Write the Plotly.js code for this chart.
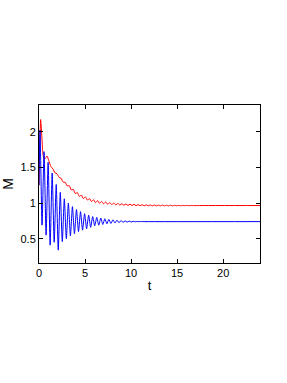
<!DOCTYPE html>
<html>
<head>
<meta charset="utf-8">
<script src="https://cdn.plot.ly/plotly-3.0.1.min.js"></script>
<style>html,body{margin:0;padding:0;background:#fff;}#plot{width:287px;height:383px;}</style>
</head>
<body>
<div id="plot"></div>
<script>
// Blue series (lower, strongly oscillating)
var blueT = [0, 0.11, 0.33, 0.55, 0.77, 0.99, 1.21, 1.43, 1.65, 1.87, 2.09, 2.31, 2.53, 2.75, 2.97, 3.19, 3.41, 3.63, 3.85, 4.07, 4.29, 4.51, 4.73, 4.95, 5.17, 5.39, 5.61, 5.83, 6.05, 6.27, 6.49, 6.71, 6.93, 7.15, 7.37, 7.59, 7.81, 8.03, 8.25, 8.47, 8.69, 8.91, 9.13, 9.35, 9.57, 9.79, 10.01, 10.23, 10.45, 10.67, 10.89, 11.11, 11.5, 24];
var blueM = [1.25, 2.02, 0.69, 1.72, 0.55, 1.57, 0.41, 1.42, 0.45, 1.26, 0.34, 1.15, 0.46, 1.06, 0.50, 1.00, 0.54, 0.95, 0.57, 0.91, 0.60, 0.88, 0.62, 0.85, 0.64, 0.83, 0.66, 0.81, 0.68, 0.80, 0.69, 0.79, 0.70, 0.78, 0.71, 0.77, 0.715, 0.765, 0.72, 0.76, 0.725, 0.755, 0.73, 0.75, 0.733, 0.747, 0.735, 0.744, 0.737, 0.742, 0.739, 0.741, 0.74, 0.74];

// Red series (upper, weakly oscillating)
var redT = [0, 0.18, 0.3, 0.42, 0.55, 0.7, 0.87, 1.05, 1.3, 1.52, 1.74, 1.96, 2.18, 2.40, 2.62, 2.84, 3.06, 3.28, 3.50, 3.72, 3.94, 4.16, 4.38, 4.60, 4.82, 5.04, 5.26, 5.48, 5.70, 5.92, 6.14, 6.36, 6.58, 6.80, 7.02, 7.24, 7.46, 7.68, 7.90, 8.12, 8.34, 8.56, 8.78, 9.00, 9.22, 9.44, 9.66, 9.88, 10.10, 10.32, 10.54, 10.76, 10.98, 11.20, 11.42, 11.64, 11.86, 12.08, 12.30, 12.52, 12.74, 12.96, 13.18, 13.40, 13.62, 13.84, 14.06, 14.28, 14.50, 14.72, 14.94, 15.16, 15.38, 15.60, 15.82, 16.04, 16.26, 16.48, 16.70, 17.2, 24];
var redM = [1.25, 2.17, 1.95, 1.70, 1.61, 1.63, 1.66, 1.60, 1.51, 1.478, 1.422, 1.41, 1.36, 1.347, 1.293, 1.292, 1.24, 1.245, 1.183, 1.192, 1.133, 1.147, 1.093, 1.112, 1.063, 1.087, 1.041, 1.064, 1.021, 1.047, 1.006, 1.035, 0.996, 1.023, 0.989, 1.015, 0.982, 1.006, 0.979, 1.0, 0.974, 0.994, 0.972, 0.99, 0.969, 0.987, 0.966, 0.985, 0.965, 0.982, 0.963, 0.979, 0.962, 0.977, 0.961, 0.976, 0.96, 0.974, 0.96, 0.973, 0.959, 0.972, 0.96, 0.971, 0.96, 0.97, 0.96, 0.969, 0.961, 0.968, 0.962, 0.968, 0.962, 0.967, 0.963, 0.967, 0.963, 0.966, 0.964, 0.965, 0.965];

var xTicks = [0, 5, 10, 15, 20];
var yTicks = [0.5, 1, 1.5, 2];

var traces = [
  {x: redT, y: redM, mode: 'lines', line: {color: '#ff0000', width: 1, shape: 'spline', smoothing: 0.6}, hoverinfo: 'skip'},
  {x: blueT, y: blueM, mode: 'lines', line: {color: '#0000ff', width: 1, shape: 'spline', smoothing: 0.6}, hoverinfo: 'skip'}
];

var axisCommon = {
  showgrid: false, zeroline: false, showline: true, mirror: 'ticks',
  linecolor: '#000', linewidth: 1, ticks: 'inside', ticklen: 4, tickcolor: '#000', tickwidth: 1,
  tickfont: {family: 'Liberation Sans, Arial, sans-serif', size: 11, color: '#000'}
};

var layout = {
  width: 287, height: 383,
  margin: {l: 39, r: 27, t: 105, b: 120},
  paper_bgcolor: '#fff', plot_bgcolor: '#fff',
  showlegend: false,
  xaxis: Object.assign({}, axisCommon, {
    range: [0, 24], tickvals: xTicks, ticktext: xTicks.map(String),
    title: {text: 't', font: {family: 'Liberation Sans, Arial, sans-serif', size: 13, color: '#000'}, standoff: 2}
  }),
  yaxis: Object.assign({}, axisCommon, {
    range: [0.16, 2.374], tickvals: yTicks, ticktext: yTicks.map(String),
    title: {text: 'M', font: {family: 'Liberation Sans, Arial, sans-serif', size: 14, color: '#000'}, standoff: 7}
  })
};

Plotly.newPlot('plot', traces, layout, {staticPlot: true, displayModeBar: false});
</script>
</body>
</html>
